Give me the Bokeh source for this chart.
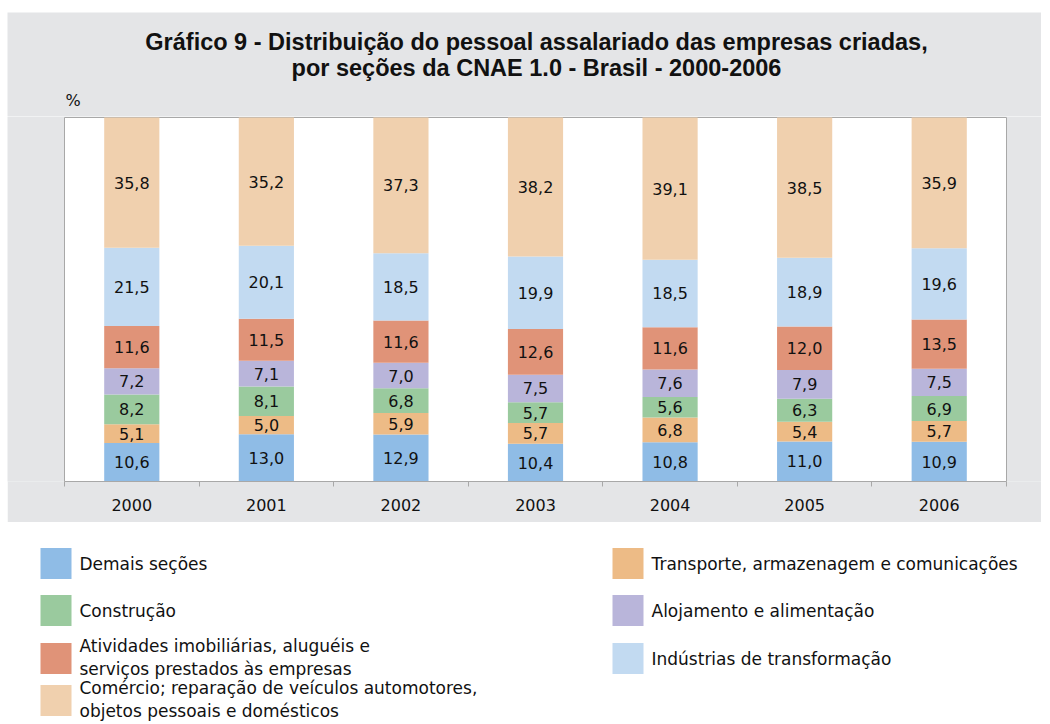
from bokeh.plotting import figure
from bokeh.models import ColumnDataSource, Range1d, FixedTicker, Spacer
from bokeh.layouts import column, row
from bokeh.core.properties import value
from bokeh.embed import file_html
from bokeh.resources import INLINE

years = ["2000", "2001", "2002", "2003", "2004", "2005", "2006"]

demais = [10.6, 13.0, 12.9, 10.4, 10.8, 11.0, 10.9]
transporte = [5.1, 5.0, 5.9, 5.7, 6.8, 5.4, 5.7]
construcao = [8.2, 8.1, 6.8, 5.7, 5.6, 6.3, 6.9]
alojamento = [7.2, 7.1, 7.0, 7.5, 7.6, 7.9, 7.5]
atividades = [11.6, 11.5, 11.6, 12.6, 11.6, 12.0, 13.5]
industrias = [21.5, 20.1, 18.5, 19.9, 18.5, 18.9, 19.6]
comercio = [35.8, 35.2, 37.3, 38.2, 39.1, 38.5, 35.9]

series_names = [
    "Demais seções",
    "Transporte, armazenagem e comunicações",
    "Construção",
    "Alojamento e alimentação",
    "Atividades imobiliárias, aluguéis e\nserviços prestados às empresas",
    "Indústrias de transformação",
    "Comércio; reparação de veículos automotores,\nobjetos pessoais e domésticos",
]
series_values = [demais, transporte, construcao, alojamento, atividades, industrias, comercio]
colors = ["#8FBCE6", "#EDBB86", "#9ACA9E", "#B9B5DA", "#E09378", "#C2DAF1", "#F0D0AE"]

title_lines = ["Gráfico 9 - Distribuição do pessoal assalariado das empresas criadas,",
               "por seções da CNAE 1.0 - Brasil - 2000-2006"]
unit_label = "%"

FONT = "DejaVu Sans"
TFONT = "Liberation Sans"
GREY = "#E4E5E7"
BORDER = "#A8A8A8"
TXT = "#111111"

W = 1034
PAGE_X0 = 7          # left page offset of all figures
PLOT_L, PLOT_R = 64, 1006   # page x of the white plotting box


def blank(height, x_range, y_range, bg):
    f = figure(width=W, height=height, output_backend="svg", toolbar_location=None,
               x_range=x_range, y_range=y_range,
               x_axis_location=None, y_axis_location=None,
               min_border_left=0, min_border_right=0, min_border_top=0, min_border_bottom=0)
    f.outline_line_color = None
    f.grid.visible = False
    f.background_fill_color = bg
    f.border_fill_color = bg
    return f


# ---------- header (title + unit), data coords = page pixels ----------
hd = blank(104, Range1d(PAGE_X0, PAGE_X0 + W), Range1d(116, 12), GREY)
hd.text(x=[536, 536], y=[41, 67], text=title_lines, text_align="center", text_baseline="middle",
        text_font=value(TFONT), text_font_size="23.5px", text_font_style="bold", text_color=TXT)
hd.text(x=[65], y=[100], text=[unit_label], text_align="left", text_baseline="middle",
        text_font=value(FONT), text_font_size="16px", text_color=TXT)

# ---------- main chart ----------
n = len(years)
px_per_unit = (PLOT_R - PLOT_L) / n
x_start = -(PLOT_L - PAGE_X0) / px_per_unit
x_end = n + (PAGE_X0 + W - PLOT_R) / px_per_unit
px_per_pct = 364 / 100.0

xs = [i + 0.5 for i in range(n)]
keys = [f"s{i}" for i in range(len(series_values))]
data = {"x": xs}
for k, v in zip(keys, series_values):
    data[k] = v
src = ColumnDataSource(data)

p = figure(width=W, height=406, output_backend="svg", toolbar_location=None,
           x_range=Range1d(x_start, x_end), y_range=Range1d(0, 100 + 1 / px_per_pct),
           y_axis_location=None, min_border_left=0, min_border_right=0,
           min_border_top=0, min_border_bottom=41)
p.background_fill_color = GREY
p.border_fill_color = GREY
p.outline_line_color = None
p.grid.visible = False

# white plotting box
p.quad(left=[0], right=[n], bottom=[0], top=[100], fill_color="white",
       line_color=BORDER, line_width=1)

p.vbar_stack(keys, x="x", width=0.41, source=src, color=colors, line_width=0)

lx, ly, lt = [], [], []
for j, x in enumerate(xs):
    base = 0.0
    for vals in series_values:
        v = vals[j]
        lx.append(x)
        ly.append(base + v / 2)
        lt.append(f"{v:.1f}".replace(".", ","))
        base += v
p.text(x=lx, y=ly, text=lt, text_align="center", text_baseline="middle",
       text_font=value(FONT), text_font_size="16px", text_color=TXT)

ax = p.xaxis[0]
ax.bounds = (0, n)
ax.ticker = FixedTicker(ticks=xs, minor_ticks=list(range(n + 1)))
ax.major_label_overrides = {x: y for x, y in zip(xs, years)}
ax.major_tick_out = 0
ax.major_tick_in = 0
ax.minor_tick_out = 5
ax.minor_tick_in = 0
ax.minor_tick_line_color = BORDER
ax.axis_line_color = BORDER
ax.major_label_standoff = 12
ax.major_label_text_font = FONT
ax.major_label_text_font_size = "16px"
ax.major_label_text_color = TXT

# ---------- legend, data coords = page pixels ----------
lg = blank(200, Range1d(PAGE_X0, PAGE_X0 + W), Range1d(722, 522), "white")

col_x = [55.5, 627.5]
row_y = [563, 610, 658, 700]
sx, sy, tx, ty = [], [], [], []
for i, name in enumerate(series_names):
    r, c = divmod(i, 2)
    sx.append(col_x[c])
    sy.append(row_y[r])
    tx.append(col_x[c] + 23.5)
    ty.append(row_y[r] - (1 if "\n" in name else 0))
lg.rect(x=sx, y=sy, width=31, height=31, color=colors, line_width=0)
lg.text(x=tx, y=ty, text=series_names, text_align="left", text_baseline="middle",
        text_font=value(FONT), text_font_size="17px", text_color=TXT,
        text_line_height=1.15)

layout = row(Spacer(width=PAGE_X0), column(Spacer(height=12), hd, p, lg, spacing=0), spacing=0)
open("out.html", "w").write(file_html(layout, INLINE))
